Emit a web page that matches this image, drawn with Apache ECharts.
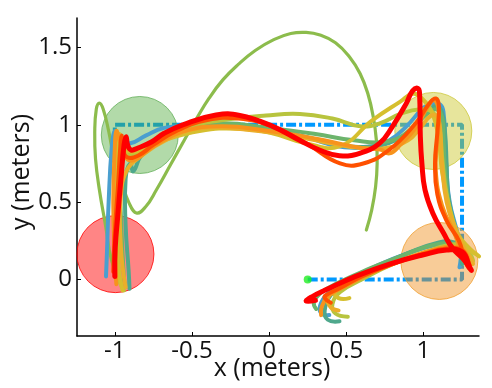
<!DOCTYPE html>
<html><head><meta charset="utf-8">
<script src="https://cdn.jsdelivr.net/npm/echarts@6/dist/echarts.min.js"></script>
<style>html,body{margin:0;padding:0;background:#fff}#c{width:492px;height:388px}</style>
</head><body><div id="c"></div>
<script>
const xTicks = [-1, -0.5, 0, 0.5, 1];
const yTicks = [0, 0.5, 1, 1.5];

// target circles: [x, y]
const redTarget = [[-0.996, 0.164]];
const greenTarget = [[-0.838, 0.934]];
const yellowTarget = [[1.064, 0.96]];
const orangeTarget = [[1.103, 0.12]];
const startPoint = [[0.25, 0]];

// reference path
const refPath = [[0.25, 0], [1.25, 0], [1.25, 1], [-1, 1], [-1, 0.93]];

// trajectories
const trajBigGreen = [[0.63,0.32],[0.665,0.45],[0.69,0.6],[0.70,0.75],[0.695,0.9],[0.675,1.05],[0.64,1.2],[0.59,1.33],[0.52,1.44],[0.43,1.53],[0.33,1.58],[0.24,1.597],[0.14,1.59],[0.03,1.55],[-0.09,1.48],[-0.2,1.39],[-0.3,1.29],[-0.39,1.17],[-0.47,1.04],[-0.55,0.9],[-0.64,0.74],[-0.73,0.58],[-0.8,0.47],[-0.86,0.43],[-0.91,0.5],[-0.95,0.61],[-1.0,0.76],[-1.04,0.96],[-1.075,1.1],[-1.10,1.14],[-1.12,1.1],[-1.13,0.95],[-1.125,0.78],[-1.10,0.58],[-1.06,0.35],[-1.02,0.12],[-0.95,-0.05]];
const trajBlue = [[0.39,-0.23],[0.34,-0.22],[0.33,-0.17],[0.38,-0.09],[0.5,-0.01],[0.7,0.09],[0.9,0.17],[1.1,0.23],[1.2,0.23],[1.24,0.18],[1.24,0.12],[1.234,0.08],[1.25,0.14],[1.22,0.3],[1.17,0.5],[1.15,0.7],[1.14,0.9],[1.13,1.08],[1.11,1.13],[1.06,1.14],[1.0,1.11],[0.89,0.99],[0.78,0.9],[0.67,0.86],[0.456,0.86],[0.24,0.92],[0.02,0.97],[-0.25,0.99],[-0.5,0.99],[-0.68,0.98],[-0.8,0.93],[-0.9,0.88],[-0.97,0.9],[-1.0,0.96],[-1.02,0.85],[-1.04,0.5],[-1.05,0.2],[-1.057,0.02]];
const trajTeal = [[0.456,-0.27],[0.38,-0.26],[0.36,-0.2],[0.4,-0.1],[0.5,-0.02],[0.7,0.08],[0.9,0.17],[1.1,0.24],[1.2,0.24],[1.25,0.2],[1.26,0.13],[1.25,0.1],[1.24,0.2],[1.2,0.35],[1.16,0.55],[1.15,0.75],[1.14,0.95],[1.12,1.08],[1.09,1.12],[1.04,1.1],[0.95,1.0],[0.82,0.9],[0.65,0.86],[0.45,0.87],[0.24,0.92],[0.0,0.96],[-0.3,0.98],[-0.55,0.96],[-0.72,0.9],[-0.83,0.8],[-0.88,0.7],[-0.9,0.75],[-0.93,0.65],[-0.93,0.35],[-0.91,0.05],[-0.905,-0.06]];
const trajGreen = [[0.305,-0.19],[0.29,-0.15],[0.33,-0.09],[0.45,-0.02],[0.65,0.07],[0.85,0.15],[1.05,0.22],[1.18,0.23],[1.25,0.19],[1.28,0.13],[1.26,0.12],[1.22,0.25],[1.17,0.45],[1.14,0.7],[1.13,0.9],[1.12,1.05],[1.08,1.1],[1.0,1.05],[0.9,0.95],[0.75,0.89],[0.55,0.9],[0.3,0.94],[0.0,0.98],[-0.3,1.01],[-0.55,0.98],[-0.72,0.91],[-0.85,0.84],[-0.92,0.82],[-0.95,0.9],[-0.97,0.8],[-0.96,0.4],[-0.94,0.0],[-0.93,-0.04]];
const trajYellowGreen = [[0.51,-0.24],[0.43,-0.22],[0.41,-0.16],[0.46,-0.08],[0.6,0.0],[0.8,0.1],[1.0,0.17],[1.15,0.22],[1.25,0.22],[1.3,0.17],[1.32,0.12],[1.27,0.2],[1.2,0.35],[1.15,0.55],[1.12,0.8],[1.1,1.0],[1.06,1.08],[0.98,1.1],[0.85,1.07],[0.72,1.01],[0.59,0.99],[0.41,1.04],[0.2,1.07],[-0.02,1.06],[-0.3,1.03],[-0.55,0.98],[-0.75,0.88],[-0.88,0.8],[-0.94,0.82],[-0.97,0.9],[-0.99,0.8],[-0.99,0.4],[-0.97,0.0],[-0.94,-0.07]];
const trajYellow = [[0.52,-0.12],[0.45,-0.12],[0.42,-0.07],[0.5,-0.01],[0.7,0.07],[0.9,0.14],[1.1,0.19],[1.25,0.2],[1.33,0.17],[1.36,0.15],[1.3,0.2],[1.22,0.3],[1.16,0.5],[1.12,0.7],[1.1,0.9],[1.06,1.07],[0.99,1.17],[0.93,1.2],[0.85,1.15],[0.67,1.03],[0.456,0.86],[0.24,0.88],[0.02,0.945],[-0.2,0.975],[-0.45,0.96],[-0.68,0.9],[-0.85,0.83],[-0.93,0.84],[-0.97,0.94],[-0.99,0.85],[-1.0,0.5],[-0.98,0.1],[-0.95,-0.07]];
const trajGolden = [[0.45,-0.2],[0.4,-0.18],[0.38,-0.12],[0.45,-0.05],[0.6,0.02],[0.8,0.1],[1.0,0.17],[1.15,0.2],[1.24,0.2],[1.3,0.15],[1.32,0.1],[1.28,0.17],[1.21,0.32],[1.15,0.5],[1.12,0.75],[1.11,0.95],[1.09,1.05],[1.05,1.06],[0.98,0.98],[0.9,0.9],[0.76,0.85],[0.6,0.85],[0.4,0.88],[0.2,0.92],[-0.128,0.966],[-0.45,0.977],[-0.67,0.9],[-0.84,0.79],[-0.92,0.71],[-0.96,0.55],[-0.96,0.2],[-0.93,-0.05]];
const trajOrange = [[0.337,-0.23],[0.34,-0.18],[0.38,-0.11],[0.5,-0.04],[0.7,0.06],[0.9,0.14],[1.1,0.2],[1.22,0.21],[1.28,0.16],[1.29,0.11],[1.26,0.15],[1.2,0.3],[1.12,0.48],[1.08,0.7],[1.09,0.9],[1.1,1.08],[1.07,1.16],[1.03,1.12],[0.95,0.98],[0.85,0.87],[0.78,0.815],[0.72,0.84],[0.6,0.85],[0.4,0.89],[0.2,0.93],[0.0,0.96],[-0.3,0.99],[-0.55,0.96],[-0.75,0.86],[-0.88,0.77],[-0.94,0.8],[-0.97,0.9],[-0.99,0.96],[-1.0,0.85],[-1.01,0.5],[-1.0,0.15],[-0.99,-0.03]];
const trajOrangeRed = [[0.40,-0.15],[0.36,-0.12],[0.37,-0.10],[0.45,-0.06],[0.6,0.02],[0.8,0.10],[1.0,0.165],[1.15,0.2],[1.25,0.19],[1.29,0.12],[1.30,0.07],[1.27,0.12],[1.23,0.25],[1.15,0.38],[1.09,0.55],[1.075,0.75],[1.09,0.95],[1.10,1.12],[1.08,1.17],[1.04,1.14],[0.95,1.01],[0.78,0.84],[0.61,0.75],[0.46,0.75],[0.24,0.88],[0.02,0.99],[-0.2,1.04],[-0.4,1.03],[-0.6,0.96],[-0.75,0.87],[-0.85,0.80],[-0.92,0.79],[-0.95,0.85],[-0.955,0.93],[-0.965,0.85],[-0.98,0.6],[-1.0,0.3],[-1.01,0.05]];
const trajRed = [[0.30,-0.135],[0.24,-0.14],[0.28,-0.11],[0.36,-0.07],[0.56,0.02],[0.78,0.10],[1.0,0.16],[1.15,0.19],[1.25,0.18],[1.30,0.08],[1.31,0.06],[1.26,0.13],[1.19,0.20],[1.13,0.30],[1.06,0.43],[1.01,0.58],[0.99,0.75],[0.98,0.92],[0.975,1.2],[0.965,1.235],[0.93,1.22],[0.89,1.14],[0.80,0.99],[0.715,0.88],[0.586,0.815],[0.456,0.80],[0.326,0.837],[0.197,0.90],[0.023,0.99],[-0.19,1.06],[-0.344,1.063],[-0.56,1.0],[-0.68,0.945],[-0.76,0.89],[-0.85,0.85],[-0.895,0.837],[-0.917,0.87],[-0.927,0.923],[-0.94,0.87],[-0.96,0.654],[-0.98,0.42],[-0.997,0.21],[-1.0,0.02]];

const FONT = '"Open Sans", sans-serif';

// a trajectory drawn as one smooth polyline through its points, placed by the cartesian axes
function traj(data, color, width, z) {
  return {
    type: 'custom', coordinateSystem: 'cartesian2d', data: data, z: z, silent: true,
    encode: { x: 0, y: 1 },
    renderItem: function (params, api) {
      if (params.dataIndex !== 0) return null;
      const pts = data.map(function (p) { return api.coord(p); });
      return {
        type: 'polyline',
        shape: { points: pts, smooth: 0.45 },
        style: { stroke: color, lineWidth: width, fill: null, lineCap: 'round', lineJoin: 'round' },
        silent: true
      };
    }
  };
}
function circle(data, fill, border) {
  return {
    type: 'scatter', data: data, symbol: 'circle', symbolSize: 77, z: 3,
    itemStyle: { color: fill, borderColor: border, borderWidth: 1 }, silent: true
  };
}

const chart = echarts.init(document.getElementById('c'), null, { renderer: 'canvas' });
chart.setOption({
  animation: false,
  backgroundColor: '#fff',
  grid: { left: 77, right: 13, top: 18, bottom: 52, containLabel: false },
  xAxis: {
    type: 'value', min: -1.245, max: 1.36,
    axisLine: { show: true, onZero: false, lineStyle: { color: '#000', width: 1.5 } },
    axisTick: { show: true, inside: true, length: 4, customValues: xTicks, lineStyle: { color: '#000', width: 1 } },
    axisLabel: { customValues: xTicks, fontSize: 24, color: '#111', fontFamily: FONT, margin: 3 },
    splitLine: { show: false }
  },
  yAxis: {
    type: 'value', min: -0.365, max: 1.69,
    axisLine: { show: true, onZero: false, lineStyle: { color: '#000', width: 1.5 } },
    axisTick: { show: true, inside: true, length: 4, customValues: yTicks, lineStyle: { color: '#000', width: 1 } },
    axisLabel: { customValues: yTicks, fontSize: 24, color: '#111', fontFamily: FONT, margin: 5 },
    splitLine: { show: false }
  },
  graphic: [
    { type: 'text', x: 272, y: 369, style: { text: 'x (meters)', fontSize: 25, fontFamily: FONT, fill: '#111', textAlign: 'center', textVerticalAlign: 'middle' } },
    { type: 'text', x: 22, y: 172, rotation: Math.PI / 2, style: { text: 'y (meters)', fontSize: 25, fontFamily: FONT, fill: '#111', textAlign: 'center', textVerticalAlign: 'middle' } }
  ],
  series: [
    { type: 'line', data: refPath, showSymbol: false, z: 2, silent: true,
      lineStyle: { color: '#0099ff', width: 4, type: [10, 3, 3, 3] } },
    circle(redTarget, 'rgba(255,0,0,0.6)', '#ff0000'),
    circle(greenTarget, 'rgba(80,170,60,0.55)', '#64af5a'),
    circle(yellowTarget, 'rgba(200,195,30,0.55)', '#cdc83c'),
    circle(orangeTarget, 'rgba(240,140,20,0.55)', '#f0a032'),
    traj(trajBigGreen, '#8cbc4c', 3.2, 5),
    traj(trajBlue, '#4a9fcf', 4, 6),
    traj(trajTeal, '#4fa88c', 4, 7),
    traj(trajGreen, '#6cb46c', 4, 8),
    traj(trajYellowGreen, '#b8c43e', 4, 9),
    traj(trajYellow, '#d6bf2e', 4, 10),
    traj(trajGolden, '#ebae2a', 4, 11),
    traj(trajOrange, '#f7931c', 4, 12),
    traj(trajOrangeRed, '#ff5000', 4, 13),
    traj(trajRed, '#ff0000', 5, 14),
    { type: 'scatter', data: startPoint, symbol: 'circle', symbolSize: 8, z: 20, silent: true,
      itemStyle: { color: '#22ee22' } }
  ]
});
</script></body></html>
